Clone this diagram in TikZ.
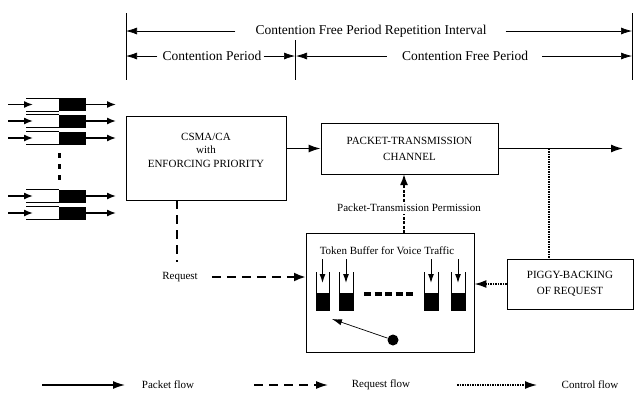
\documentclass[tikz,border=0pt]{standalone}
\usepackage{fontspec}
\setmainfont{Liberation Serif}
\usetikzlibrary{arrows.meta}
\begin{document}
\begin{tikzpicture}[x=1pt,y=-1pt,
 tip/.style={-{Latex[length=12pt,width=8pt]}},
 pkt/.style={line width=1.4pt, tip},
 qpkt/.style={line width=1.4pt, -{Latex[length=9pt,width=7pt]}},
 reqline/.style={line width=2.5pt, dash pattern=on 9pt off 6pt},
 reqarrow/.style={reqline, -{Latex[length=12pt,width=9pt]}},
 ctlline/.style={line width=1.4pt, dash pattern=on 1.5pt off 1pt},
 ctlarrow/.style={ctlline, tip},
 permarrow/.style={line width=1.8pt, dash pattern=on 3pt off 1.5pt, -{Latex[length=11pt,width=8pt]}},
 box/.style={draw, line width=0.8pt, align=center, font=\fontsize{11}{16}\selectfont, inner sep=0},
 lbl/.style={font=\fontsize{11}{13.5}\selectfont, inner sep=1pt, align=center},
 toplbl/.style={font=\fontsize{13.5}{16}\selectfont, inner sep=0pt},
 dim/.style={line width=0.7pt},
 dimarrow/.style={dim, -{Latex[length=11pt,width=7pt]}},
 buf/.style={line width=0.8pt},
 bufarrow/.style={line width=1pt, -{Latex[length=9pt,width=6pt]}},
]
\useasboundingbox (0,0) rectangle (635,392);

% ---- top dimension lines ----
\draw[dim] (126,13) -- (126,80);
\draw[dim] (295,40) -- (295,80);
\draw[dim] (632,13) -- (632,80);
\coordinate (l1) at (126,31);
\coordinate (r1) at (632,31);
\node[toplbl] (cfpri) at (371,31) {Contention Free Period Repetition Interval};
\draw[dimarrow] ([xshift=-20pt]cfpri.west) -- (l1);
\draw[dimarrow] ([xshift=19pt]cfpri.east) -- (r1);

\coordinate (l2) at (126,56);
\coordinate (m2a) at (295,56);
\coordinate (m2b) at (296,56);
\coordinate (r2) at (632,56);
\node[toplbl] (cp) at (212,56) {Contention Period};
\node[toplbl] (cfp) at (465,56) {Contention Free Period};
\draw[dimarrow] ([xshift=-5pt]cp.west) -- (l2);
\draw[dimarrow] ([xshift=2pt]cp.east) -- (m2a);
\draw[dimarrow] ([xshift=-15pt]cfp.west) -- (m2b);
\draw[dimarrow] ([xshift=14pt]cfp.east) -- (r2);

% ---- queues ----
\foreach \y [count=\i] in {104.5,121,138,196,213} {
  \draw[line width=0.8pt] (26,\y-6.5) -- (59,\y-6.5) (26,\y+6.5) -- (59,\y+6.5);
  \node[fill=black, minimum width=27pt, minimum height=13pt, inner sep=0] (q\i) at (72.5,\y) {};
  \coordinate (qin\i) at (8,\y);
  \coordinate (qend\i) at (33,\y);
  \coordinate (qout\i) at (116,\y);
  \draw[qpkt] (qin\i) -- (qend\i);
  \draw[qpkt] (q\i.east) -- (qout\i);
}
\draw[line width=3pt, dash pattern=on 5pt off 6pt] (59.3,153) -- (59.3,182);

% ---- main boxes ----
\node[box, minimum width=160pt, minimum height=84pt] (csma) at (206,158) {};
\node[lbl] (csmatxt) at (206,150) {CSMA/CA\\with\\ENFORCING PRIORITY};
\node[box, minimum width=177pt, minimum height=51pt] (ptc) at (409.5,148.5) {PACKET-TRANSMISSION\\CHANNEL};
\node[box, minimum width=126pt, minimum height=50pt] (piggy) at (570,284) {PIGGY-BACKING\\OF REQUEST};
\node[box, minimum width=168pt, minimum height=119pt] (token) at (390,292.5) {};
\node[lbl] (tokentxt) at (387,251) {Token Buffer for Voice Traffic};

% packet flow
\draw[pkt] (csma.east |- ptc.west) -- (ptc.west);
\coordinate (out) at (623,148.5);
\draw[pkt] (ptc.east) -- (out);

% control flow
\coordinate (tap) at (549,148.5);
\draw[ctlline] (tap) -- (tap |- piggy.north);
\draw[ctlarrow] (piggy.west) -- (piggy.west -| token.east);

% permission
\coordinate (permb) at (404,233);
\coordinate (permt) at (404,174);
\draw[permarrow] (permb) -- (permt);
\node[lbl, fill=white, inner sep=2pt] (perm) at (409,208) {Packet-Transmission Permission};

% request
\coordinate (reqtop) at (177,200);
\coordinate (reqbot) at (177,262);
\draw[reqline] (reqtop) -- (reqbot);
\node[lbl] (req) at (180,277) {Request};
\coordinate (reqend) at (306,277);
\draw[reqarrow] ([xshift=13pt]req.east) -- (reqend);

% ---- token buffers ----
\foreach \xa/\xb [count=\i] in {316/329,339/353,424/438,451/465} {
  \draw[buf] (\xa,272) -- (\xa,310) -- (\xb,310) -- (\xb,272);
  \fill (\xa,293) rectangle (\xb,310);
  \coordinate (bt\i) at ({(\xa+\xb)/2},259);
  \coordinate (bb\i) at ({(\xa+\xb)/2},283);
  \draw[bufarrow] (bt\i) -- (bb\i);
}
\draw[line width=3.5pt, dash pattern=on 7pt off 3.5pt] (364,294) -- (415,294);
\node[circle, fill=black, minimum size=11pt, inner sep=0] (dot) at (393,340) {};
\coordinate (ptr) at (332,319);
\draw[line width=0.7pt, -{Latex[length=10pt,width=6pt]}] (dot) -- (ptr);

% ---- legend ----
\coordinate (la1) at (42,385);
\coordinate (la2) at (125,385);
\draw[pkt] (la1) -- (la2);
\node[lbl] (lg1) at (168,385) {Packet flow};
\coordinate (lb1) at (254,385);
\coordinate (lb2) at (328,385);
\draw[line width=1.5pt, dash pattern=on 9pt off 6pt, tip] (lb1) -- (lb2);
\node[lbl] (lg2) at (381,385) {Request flow};
\coordinate (lc1) at (457,385);
\coordinate (lc2) at (537,385);
\draw[ctlarrow] (lc1) -- (lc2);
\node[lbl] (lg3) at (590,385) {Control flow};
\end{tikzpicture}
\end{document}
